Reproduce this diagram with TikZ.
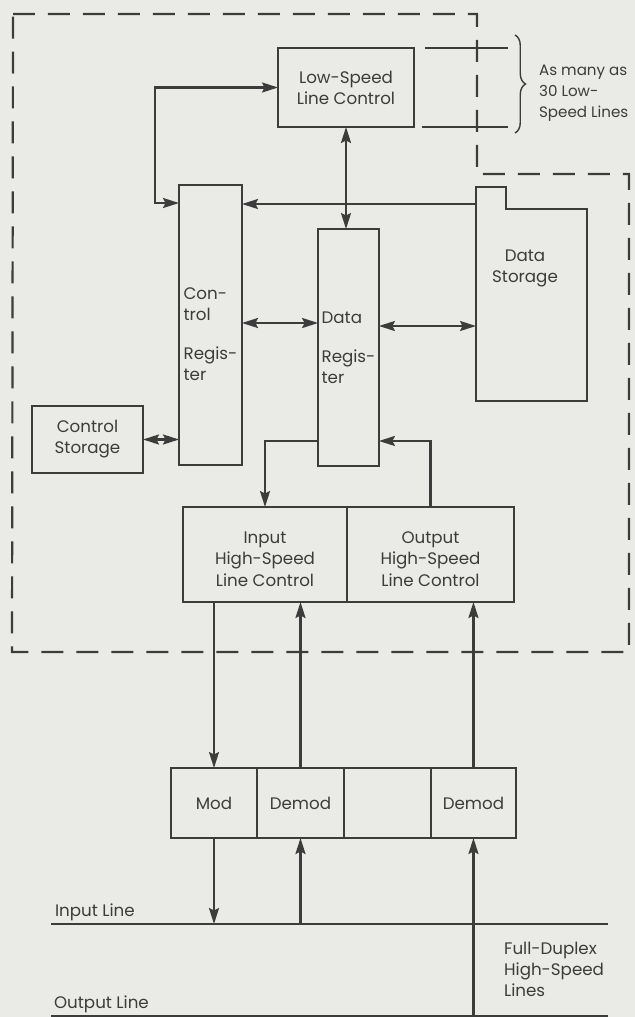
\documentclass[tikz,border=0pt]{standalone}
\usepackage{fontspec}
\setmainfont{Poppins}
\usetikzlibrary{arrows.meta,positioning,calc,decorations.pathreplacing}
\definecolor{paper}{RGB}{234,234,231}
\definecolor{ink}{RGB}{60,60,60}
\tikzset{
  box/.style={draw, rectangle, align=center, inner sep=2pt, outer sep=0pt, font=\fontsize{9.5}{12}\selectfont},
  reg/.style={box, align=left},
  arr/.style={-{Stealth[length=3.2mm,width=2mm,inset=0.5mm]}},
  dbl/.style={{Stealth[length=3.2mm,width=2mm,inset=0.5mm]}-{Stealth[length=3.2mm,width=2mm,inset=0.5mm]}},
  bnd/.style={dash pattern=on 0.44cm off 0.26cm},
  lbl/.style={font=\fontsize{9.5}{12}\selectfont, align=left, inner sep=0pt},
}

\begin{document}
\begin{tikzpicture}[x=0.02cm,y=-0.02cm,line width=1.25pt,color=ink]
\fill[paper] (0,0) rectangle (635,1017);
\useasboundingbox (0,0) rectangle (635,1017);
\draw[bnd] (13,14) -- (477,14) -- (477,174) -- (629,174) -- (629,652) -- (12,652) -- cycle;
\node[box, minimum width=2.72cm, minimum height=1.58cm] (lslc) at (346,87.5) {Low-Speed\\Line Control};
\node[reg, minimum width=1.26cm, minimum height=5.6cm] (creg) at (210.5,325) {\rule{0pt}{17pt}Con-\\trol\\[10pt]Regis-\\ter};
\node[reg, minimum width=1.18cm, minimum height=4.74cm] (dreg) at (348.5,347.5) {Data\\[10pt]Regis-\\ter};
\node[box, minimum width=2.22cm, minimum height=1.34cm] (cstor) at (87.5,439.5) {Control\\Storage};
\node[minimum width=2.22cm, minimum height=4.28cm, inner sep=0pt, outer sep=0pt] (dsto) at (531.5,294) {};
\node[lbl, align=center] (dstxt) at (525,268) {Data\\Storage};
\node[box, minimum width=3.28cm, minimum height=1.9cm] (ihslc) at (265,554.5) {\rule{0pt}{12pt}Input\\High-Speed\\Line Control};
\node[box, minimum width=3.34cm, minimum height=1.9cm, right=0pt of ihslc] (ohslc) {\rule{0pt}{12pt}Output\\High-Speed\\Line Control};
\node[box, minimum width=1.72cm, minimum height=1.4cm] (mod) at (214,803) {Mod};
\node[box, minimum width=1.74cm, minimum height=1.4cm, right=0pt of mod] (dem1) {Demod};
\node[box, minimum width=1.74cm, minimum height=1.4cm, right=0pt of dem1] (spare) {};
\node[box, minimum width=1.70cm, minimum height=1.4cm, right=0pt of spare] (dem2) {Demod};
\draw (dsto.north west) -- ++(30,0) -- ++(0,22) -| (dsto.south east) -- (dsto.south west) -- cycle;
\coordinate (lk) at (155,203);
\coordinate (inw) at (51,924);
\coordinate (ine) at (608,924);
\coordinate (outw) at (51,1016);
\coordinate (oute) at (608,1016);
\coordinate (brt) at (515,35);
\coordinate (brb) at (515,133);
\draw ([xshift=0.22cm]lslc.north east) -- ++(83,0);
\draw ([xshift=0.16cm]lslc.south east) -- ++(86,0);
\draw[decorate, decoration={brace, amplitude=6pt}, line width=0.8pt] (brt) -- (brb);
\node[lbl, anchor=west, font=\fontsize{8.6}{12}\selectfont] (many) at (538,93) {As many as\\30 Low-\\Speed Lines};
\draw[dbl] (lslc.west) -| (lk) -- (lk -| creg.west);
\draw[dbl] (lslc.south) -- (lslc.south |- dreg.north);
\draw[arr] ([yshift=-0.34cm]dsto.north west) -- ([yshift=-0.34cm]dsto.north west -| creg.east);
\draw[dbl] ([yshift=0.49cm]dreg.west) -- ([yshift=0.49cm]dreg.west -| creg.east);
\draw[dbl] ([yshift=0.43cm]dreg.east) -- ([yshift=0.43cm]dreg.east -| dsto.west);
\draw[dbl] (cstor.east) -- (cstor.east -| creg.west);
\draw[arr] ([yshift=-1.87cm]dreg.west) -| (ihslc.north);
\draw[arr] (ohslc.north) |- ([yshift=-1.87cm]dreg.east);
\draw[arr] (ihslc.south -| mod.north) -- (mod.north);
\draw[arr] (dem1.north) -- (dem1.north |- ihslc.south);
\draw[arr] (dem2.north) -- (dem2.north |- ohslc.south);
\draw[arr] (mod.south) -- (mod.south |- inw);
\draw[arr] (inw -| dem1.south) -- (dem1.south);
\draw[arr] (outw -| dem2.south) -- (dem2.south);
\draw (inw) -- (ine);
\draw (outw) -- (oute);
\node[lbl, anchor=base west] (inl) at (54,916) {Input Line};
\node[lbl, anchor=base west] (outl) at (53,1008) {Output Line};
\node[lbl, anchor=west] (fdx) at (503,969) {Full-Duplex\\High-Speed\\Lines};
\end{tikzpicture}
\end{document}
